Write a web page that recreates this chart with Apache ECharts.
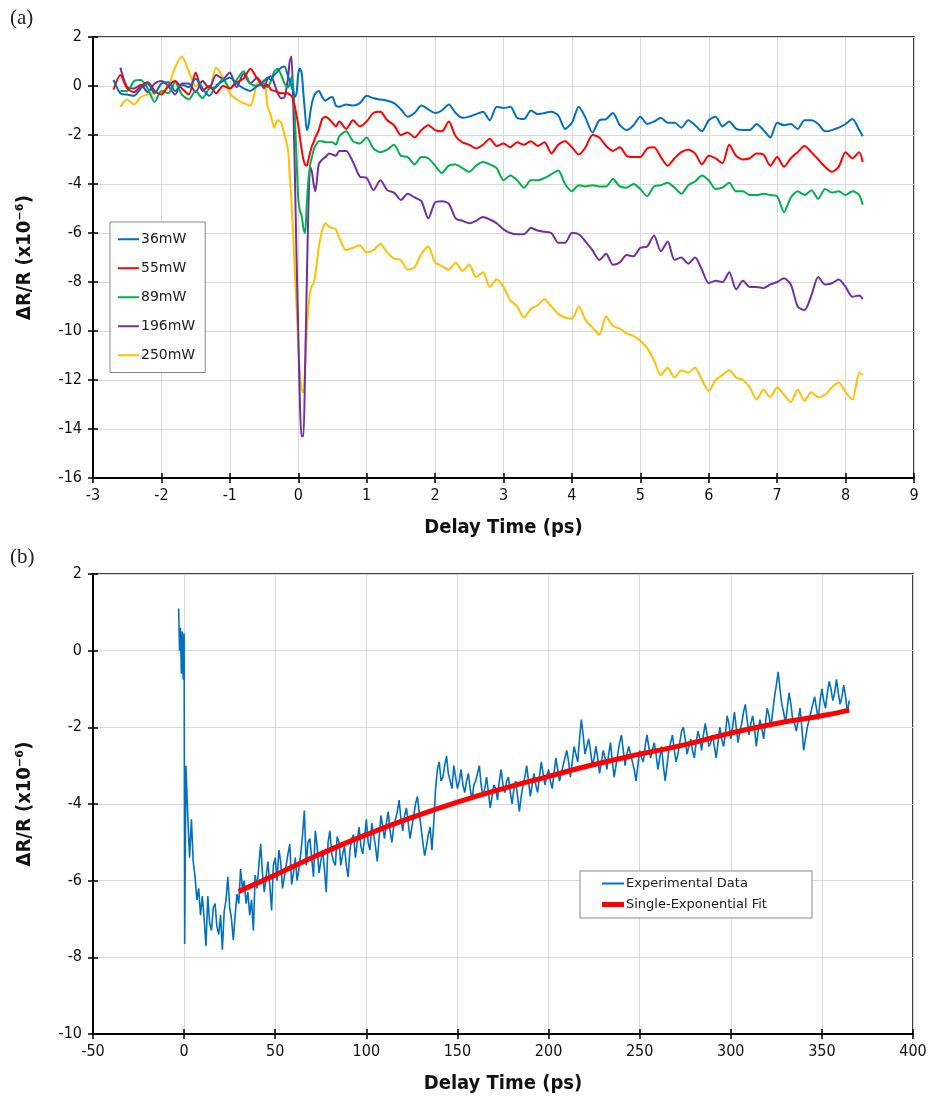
<!DOCTYPE html>
<html><head><meta charset="utf-8">
<script src="https://cdn.jsdelivr.net/npm/echarts@6/dist/echarts.min.js"></script>
<style>html,body{margin:0;padding:0;background:#fff;}#c{width:935px;height:1099px;}</style>
</head><body><div id="c"></div>
<script>
// ---------- Panel (a) ----------
const timeA = [-2.7,-2.6,-2.5,-2.4,-2.3,-2.2,-2.1,-2.0,-1.9,-1.8,-1.7,-1.6,-1.5,-1.4,-1.3,-1.2,-1.1,-1.0,-0.9,-0.8,-0.7,-0.6,-0.5,
-0.45,-0.4,-0.35,-0.3,-0.25,-0.2,-0.15,-0.125,-0.1,-0.075,-0.05,-0.025,0,0.025,0.05,0.075,0.1,0.125,0.15,0.175,0.2,0.225,0.25,0.3,0.35,0.4,0.45,0.5,0.55,0.6,
0.7,0.8,0.9,1.0,1.1,1.2,1.3,1.4,1.5,1.6,1.7,1.8,1.9,2.0,2.1,2.2,2.3,2.4,2.5,2.6,2.7,2.8,2.9,3.0,3.1,3.2,3.3,3.4,3.5,3.6,3.7,3.8,3.9,4.0,4.1,4.2,4.3,4.4,4.5,4.6,4.7,4.8,4.9,5.0,5.1,5.2,5.3,5.4,5.5,5.6,5.7,5.8,5.9,6.0,6.1,6.2,6.3,6.4,6.5,6.6,6.7,6.8,6.9,7.0,7.1,7.2,7.3,7.4,7.5,7.6,7.7,7.8,7.9,8.0,8.1,8.2,8.25];

const p36 = [0.25,-0.3,-0.35,-0.4,-0.1,0.1,-0.3,0.1,0.15,-0.2,0.05,-0.05,0.3,-0.1,-0.4,0.0,0.2,0.35,0.1,-0.1,-0.2,0.0,0.2,
0.35,0.25,0.45,0.6,0.75,0.8,0.4,0.2,0.0,-0.2,-0.45,-0.3,0.5,0.7,0.55,-0.3,-1.1,-1.8,-1.6,-1.1,-0.7,-0.45,-0.3,-0.2,-0.45,-0.6,-0.5,-0.45,-0.8,-0.85,
-0.75,-0.8,-0.7,-0.4,-0.5,-0.55,-0.6,-0.7,-0.95,-1.25,-1.1,-0.8,-0.95,
-1.1,-1.0,-0.75,-1.1,-1.3,-1.25,-1.15,-1.05,-1.4,-0.85,
-0.9,-0.85,-1.3,-1.35,-1.0,-1.15,-1.1,-1.05,-1.2,-1.75,
-1.5,-0.85,-1.3,-1.9,-1.4,-1.35,-1.1,-1.6,-1.8,-1.6,
-1.25,-1.55,-1.45,-1.3,-1.5,-1.5,-1.7,-1.4,-1.6,-1.85,
-1.4,-1.25,-1.65,-1.45,-1.75,-1.8,-1.8,-1.55,-1.8,-2.1,
-1.5,-1.6,-1.55,-1.75,-1.4,-1.4,-1.55,-1.85,-1.8,-1.7,
-1.55,-1.35,-1.8,-2.05];

const p55 = [-0.15,0.45,-0.1,-0.25,0.0,0.15,-0.2,-0.35,0.0,0.2,-0.1,-0.35,0.55,-0.2,0.0,-0.3,0.0,-0.1,0.15,0.3,0.7,0.3,0.0,
0.05,-0.15,-0.2,-0.25,-0.3,-0.3,-0.3,-0.35,-0.4,-0.55,-0.85,-1.2,-1.6,-2.1,-2.6,-3.0,-3.2,-3.25,-3.0,-2.7,-2.45,-2.3,-2.1,-1.8,-1.35,-1.25,-1.35,-1.5,-1.65,-1.45,
-1.75,-1.4,-1.65,-1.45,-1.1,-1.05,-1.4,-1.6,-2.0,-1.9,-2.1,-1.8,-1.6,
-1.8,-1.85,-1.45,-2.05,-2.3,-2.4,-2.55,-2.4,-2.15,-2.45,
-2.35,-2.5,-2.3,-2.4,-2.25,-2.45,-2.3,-2.75,-2.4,-2.25,
-2.5,-2.8,-2.5,-2.0,-2.1,-2.45,-2.65,-2.5,-2.85,-2.9,
-2.9,-2.55,-2.5,-2.9,-3.25,-2.95,-2.7,-2.6,-2.75,-3.2,
-2.85,-2.95,-3.15,-2.4,-2.85,-3.0,-2.95,-2.75,-2.8,-3.25,
-2.9,-3.3,-2.95,-2.7,-2.45,-2.7,-3.0,-3.3,-3.5,-3.3,
-2.7,-2.95,-2.7,-3.1];

const p89 = [null,-0.2,-0.2,0.2,0.25,-0.1,-0.65,-0.2,-0.3,0.15,-0.35,-0.55,-0.2,-0.5,-0.1,-0.05,0.3,-0.1,0.25,0.6,0.1,0.0,0.1,
-0.05,0.2,0.6,0.7,0.45,0.1,-0.05,0.1,0.35,0.0,-1.2,-3.0,-4.6,-5.1,-5.3,-5.8,-6.0,-4.8,-3.8,-3.2,-2.9,-2.6,-2.45,-2.25,-2.25,-2.3,-2.3,-2.3,-2.4,-2.05,
-1.85,-2.25,-2.35,-2.1,-2.55,-2.7,-2.6,-2.4,-2.85,-2.9,-3.2,-2.9,-2.95,
-3.25,-3.55,-3.25,-3.2,-3.35,-3.5,-3.25,-3.1,-3.2,-3.35,
-3.85,-3.65,-3.85,-4.15,-3.85,-3.85,-3.75,-3.6,-3.45,-4.0,
-4.3,-4.05,-4.1,-4.05,-4.1,-4.1,-3.8,-4.1,-4.15,-4.0,
-4.2,-4.5,-4.1,-4.05,-3.95,-4.15,-4.4,-4.05,-3.9,-3.65,
-3.85,-4.2,-4.15,-3.95,-4.3,-4.3,-4.45,-4.45,-4.4,-4.45,
-4.5,-5.15,-4.55,-4.3,-4.45,-4.25,-4.6,-4.2,-4.35,-4.3,
-4.45,-4.3,-4.45,-4.85];

const p196 = [null,0.75,-0.05,-0.1,0.05,-0.25,0.1,0.2,0.0,-0.35,0.1,0.1,-0.25,0.2,-0.1,0.45,0.3,0.55,-0.05,0.5,0.1,0.35,-0.1,
0.3,0.4,0.1,-0.3,-0.5,-0.45,0.3,1.0,1.2,-0.5,-3.5,-7.0,-10.0,-13.0,-14.3,-14.3,-11.5,-8.0,-4.8,-3.3,-3.5,-4.0,-4.3,-3.2,-3.0,-2.9,-2.75,-2.8,-2.85,-2.65,
-2.65,-3.1,-3.7,-3.75,-4.25,-3.85,-4.25,-4.35,-4.65,-4.4,-4.55,-4.7,-5.4,
-4.75,-4.7,-4.8,-5.4,-5.5,-5.6,-5.5,-5.35,-5.45,-5.6,
-5.85,-6.0,-6.05,-6.05,-5.8,-5.9,-5.95,-6.0,-6.4,-6.4,
-6.0,-6.05,-6.35,-6.7,-7.1,-6.85,-7.3,-7.2,-6.9,-6.95,
-6.6,-6.55,-6.1,-6.75,-6.35,-7.1,-7.0,-7.25,-7.0,-7.5,
-8.05,-7.95,-8.0,-7.6,-8.3,-7.95,-8.2,-8.2,-8.25,-8.1,
-8.0,-7.85,-8.1,-9.0,-9.15,-8.55,-7.8,-8.1,-8.05,-7.9,
-8.2,-8.6,-8.55,-8.7];

const p250 = [null,-0.85,-0.55,-0.75,-0.45,-0.35,-0.3,-0.25,0.0,0.75,1.2,0.6,0.0,0.2,-0.1,0.75,0.35,-0.3,-0.55,-0.7,-0.8,0.1,0.25,
-0.8,-1.2,-1.7,-1.4,-1.5,-2.0,-2.6,-3.6,-4.7,-6.0,-7.6,-9.0,-10.6,-11.8,-12.4,-12.5,-11.6,-10.0,-9.0,-8.4,-8.15,-8.05,-7.7,-6.6,-5.9,-5.6,-5.75,-5.8,-5.85,-6.2,
-6.7,-6.6,-6.5,-6.8,-6.7,-6.45,-6.8,-7.05,-7.1,-7.5,-7.4,-6.85,-6.55,
-7.2,-7.35,-7.5,-7.2,-7.55,-7.3,-7.8,-7.6,-8.2,-7.9,
-8.2,-8.75,-9.0,-9.45,-9.1,-8.95,-8.7,-9.0,-9.3,-9.45,
-9.5,-9.0,-9.55,-9.85,-10.15,-9.4,-9.8,-9.9,-10.1,-10.2,
-10.4,-10.7,-11.2,-11.8,-11.5,-11.9,-11.6,-11.7,-11.5,-12.0,
-12.45,-12.0,-11.8,-11.6,-11.9,-12.0,-12.3,-12.8,-12.4,-12.7,
-12.3,-12.6,-12.9,-12.4,-12.85,-12.5,-12.7,-12.6,-12.3,-12.1,
-12.5,-12.8,-11.7,-11.8];

const namesA = ['36mW','55mW','89mW','196mW','250mW'];
const colorsA = ['#0070C0','#FF0000','#00B050','#7030A0','#FFC000'];
const xTicksA = {min:-3, max:9, step:1};
const yTicksA = {min:-16, max:2, step:2};

// ---------- Panel (b) ----------
const timeB = [-3,-2.5,-2,-1.5,-1,-0.5,0,0.3,1,2,3,4,5,6,7,8,9,10,11,12,13,14,15,16,17,18,19,20,21,22,23,24,25,26,27,28,29,30,31,32,33,34,35,36,37,38,39,40,
42,44,46,48,50,52,54,56,58,60,62,64,66,68,70,72,74,76,78,80,82,84,86,88,90,92,94,96,98,100,
102,104,106,108,110,112,114,116,118,120,122,124,126,128,130,132,134,136,138,140,142,144,146,148,150,152,154,156,158,160,
162,164,166,168,170,172,174,176,178,180,182,184,186,188,190,192,194,196,198,200,202,204,206,208,210,212,214,216,218,220,
222,224,226,228,230,232,234,236,238,240,242,244,246,248,250,252,254,256,258,260,262,264,266,268,270,272,274,276,278,280,
282,284,286,288,290,292,294,296,298,300,302,304,306,308,310,312,314,316,318,320,322,324,326,328,330,332,334,336,338,340,
342,344,346,348,350,352,354,356,358,360,362,364,365];

const expB = [1.1,0.0,0.6,-0.6,0.5,-0.75,0.45,-7.65,-3.0,-4.3,-5.4,-4.4,-5.5,-5.9,-6.5,-6.2,-6.9,-6.4,-7.0,-7.7,-6.4,-7.1,-7.3,-6.7,-6.6,-7.2,-7.4,-6.9,-7.8,-6.8,-6.5,-5.9,-6.7,-7.0,-7.55,-6.9,-6.35,-6.6,-5.7,-6.2,-6.0,-6.6,-6.3,-6.9,-6.5,-7.3,-5.85,-6.2,
-5.04,-6.3,-5.5,-6.78,-5.4,-5.2,-6.2,-5.6,-5.05,-5.8,-6.0,-5.3,-4.17,-5.0,-5.4,-4.7,-5.8,-5.2,-6.3,-4.7,-5.5,-4.85,-5.6,-5.1,-5.9,-4.9,-5.4,-4.6,-5.3,-4.4,
-5.2,-4.8,-5.5,-4.3,-4.9,-4.2,-5.0,-4.4,-3.9,-4.7,-4.1,-4.9,-4.3,-3.8,-4.6,-5.35,-4.8,-5.2,-3.6,-2.9,-3.3,-2.75,-3.4,-3.0,-3.6,-3.1,-3.7,-3.2,-3.9,-3.4,
-3.0,-3.8,-3.3,-4.1,-3.5,-3.9,-3.1,-3.7,-3.3,-4.0,-3.4,-4.2,-3.5,-3.0,-3.8,-3.2,-3.7,-2.9,-3.5,-3.1,-3.6,-2.8,-3.4,-3.0,-2.6,-3.3,-2.5,-2.9,-1.8,-2.7,
-2.3,-3.0,-2.5,-3.2,-2.6,-3.1,-2.4,-3.3,-2.7,-2.2,-3.0,-2.5,-2.9,-3.4,-2.6,-2.9,-2.2,-2.8,-2.4,-3.1,-2.5,-3.4,-2.6,-2.2,-2.9,-2.4,-2.0,-2.7,-2.3,-2.8,
-2.1,-2.6,-1.9,-2.5,-2.2,-2.8,-2.0,-2.5,-1.7,-2.3,-1.6,-2.4,-1.9,-1.4,-2.2,-1.7,-2.5,-1.8,-2.3,-1.5,-2.0,-1.2,-0.55,-1.4,-1.9,-1.1,-1.8,-2.1,-1.5,-2.6,
-2.0,-1.6,-1.2,-1.8,-1.0,-1.5,-0.8,-1.3,-0.75,-1.4,-0.9,-1.6,-1.3];

// additional samples between the ones above (odd picoseconds)
const timeB2 = [43,45,47,49,51,53,55,57,59,61,63,65,67,69,71,73,75,77,79,81,83,85,87,89,91,93,95,97,99,101,
103,105,107,109,111,113,115,117,119,121,123,125,127,129,131,133,135,137,139,141,143,145,147,149,151,153,155,157,159,161,
163,165,167,169,171,173,175,177,179,181,183,185,187,189,191,193,195,197,199,201,203,205,207,209,211,213,215,217,219,221,
223,225,227,229,231,233,235,237,239,241,243,245,247,249,251,253,255,257,259,261,263,265,267,269,271,273,275,277,279,281,
283,285,287,289,291,293,295,297,299,301,303,305,307,309,311,313,315,317,319,321,323,325,327,329,331,333,335,337,339,341,
343,345,347,349,351,353,355,357,359,361,363];
const expB2 = [-5.8,-5.9,-6.1,-5.6,-6.0,-5.5,-5.9,-5.3,-6.1,-5.4,
-5.7,-4.8,-5.6,-4.9,-5.9,-5.1,-5.5,-5.7,-5.0,-5.3,
-5.6,-5.0,-5.3,-5.6,-5.2,-4.8,-5.0,-5.1,-4.9,-5.0,
-4.5,-5.1,-4.9,-4.6,-4.5,-4.7,-4.6,-4.2,-4.4,-4.3,
-4.5,-4.6,-4.0,-4.2,-5.0,-5.1,-4.6,-4.5,-3.1,-3.4,
-3.0,-3.2,-3.6,-3.3,-3.4,-3.5,-3.4,-3.6,-3.5,-3.2,
-3.5,-3.6,-3.7,-3.8,-3.6,-3.4,-3.5,-3.4,-3.7,-3.6,
-3.8,-3.8,-3.3,-3.4,-3.5,-3.5,-3.3,-3.2,-3.3,-3.4,
-3.2,-3.1,-3.2,-2.8,-2.9,-2.9,-2.7,-2.3,-2.2,-2.5,
-2.6,-2.8,-2.8,-2.9,-2.8,-2.7,-2.9,-3.0,-2.4,-2.6,
-2.7,-2.7,-3.1,-3.0,-2.8,-2.5,-2.5,-2.6,-2.7,-2.8,
-3.0,-3.0,-2.4,-2.6,-2.7,-2.1,-2.3,-2.5,-2.6,-2.4,
-2.3,-2.2,-2.2,-2.4,-2.5,-2.4,-2.3,-2.2,-1.9,-2.0,
-2.0,-2.1,-1.6,-1.8,-1.9,-2.0,-2.1,-2.0,-1.9,-1.7,
-1.6,-0.9,-1.0,-1.6,-1.5,-1.4,-1.9,-1.8,-2.0,-2.3,
-1.8,-1.4,-1.5,-1.3,-1.3,-1.1,-1.0,-1.1,-1.1,-1.2,-1.2];

const fitT = [30,50,75,100,125,150,175,200,225,250,275,300,325,350,365];
const fitV = [-6.28,-5.85,-5.3,-4.8,-4.35,-3.95,-3.6,-3.28,-2.97,-2.7,-2.45,-2.15,-1.9,-1.7,-1.55];
const namesB = ['Experimental Data','Single-Exponential Fit'];
const xTicksB = {min:-50, max:400, step:50};
const yTicksB = {min:-10, max:2, step:2};

// ---------- chart ----------
const FONT = "'DejaVu Sans Condensed','DejaVu Sans',Verdana,sans-serif";
const LFONT = "'DejaVu Sans',Verdana,sans-serif";
const pair = (t, v) => t.map((x, i) => [x, v[i]]).filter(p => p[1] !== null && p[1] !== undefined);

function mainX(g, r) {
  return {
    type:'value', gridIndex:g, position:'bottom', min:r.min, max:r.max, interval:r.step,
    axisLine:{show:true, onZero:false, lineStyle:{color:'#000', width:2}},
    axisTick:{show:true, length:5, lineStyle:{color:'#000', width:1.5}},
    axisLabel:{fontSize:16, color:'#111', margin:10, fontFamily:FONT},
    splitLine:{show:true, lineStyle:{color:'#d9d9d9', width:1}},
    name:'Delay Time (ps)', nameLocation:'middle', nameGap:40,
    nameTextStyle:{fontSize:20, fontWeight:'bold', color:'#111', fontFamily:FONT}
  };
}
function mainY(g, r) {
  return {
    type:'value', gridIndex:g, position:'left', min:r.min, max:r.max, interval:r.step,
    axisLine:{show:true, onZero:false, lineStyle:{color:'#000', width:2}},
    axisTick:{show:true, length:5, lineStyle:{color:'#000', width:1.5}},
    axisLabel:{fontSize:16, color:'#111', margin:11, fontFamily:FONT},
    splitLine:{show:true, lineStyle:{color:'#d9d9d9', width:1}},
    name:'ΔR/R (x10⁻⁶)', nameLocation:'middle', nameGap:58, nameRotate:90,
    nameTextStyle:{fontSize:20, fontWeight:'bold', color:'#111', fontFamily:FONT}
  };
}
function dupAxis(g, r, pos) {
  return {
    type:'value', gridIndex:g, position:pos, min:r.min, max:r.max, interval:r.step,
    axisLine:{show:false, onZero:false}, axisLabel:{show:false}, splitLine:{show:false},
    axisTick:{show:true, inside:true, length:5, lineStyle:{color:'#000', width:1.5}}
  };
}

const series = [];
[p36, p55, p89, p196, p250].forEach((arr, i) => {
  series.push({
    name:namesA[i], type:'line', xAxisIndex:0, yAxisIndex:0, data:pair(timeA, arr),
    showSymbol:false, symbol:'none', smooth:0.25, z:10 - i,
    lineStyle:{color:colorsA[i], width:2}, itemStyle:{color:colorsA[i]}
  });
});
const expAll = pair(timeB, expB).concat(pair(timeB2, expB2)).sort((a, b) => a[0] - b[0]);
series.push({
  name:namesB[0], type:'line', xAxisIndex:1, yAxisIndex:1, data:expAll,
  showSymbol:false, symbol:'none', lineStyle:{color:'#0070C0', width:1.6}, itemStyle:{color:'#0070C0'}
});
series.push({
  name:namesB[1], type:'line', xAxisIndex:1, yAxisIndex:1, data:pair(fitT, fitV),
  showSymbol:false, symbol:'none', smooth:true, z:5,
  lineStyle:{color:'#FF0000', width:5}, itemStyle:{color:'#FF0000'}
});

const chart = echarts.init(document.getElementById('c'), null, {renderer:'canvas'});
chart.setOption({
  animation:false,
  backgroundColor:'#fff',
  grid:[
    {left:93, top:37, width:821, height:441, show:true, borderColor:'#000', borderWidth:1.5, backgroundColor:'transparent'},
    {left:93, top:574, width:820, height:460, show:true, borderColor:'#000', borderWidth:1.5, backgroundColor:'transparent'}
  ],
  xAxis:[mainX(0, xTicksA), mainX(1, xTicksB), dupAxis(0, xTicksA, 'bottom'), dupAxis(1, xTicksB, 'bottom')],
  yAxis:[mainY(0, yTicksA), mainY(1, yTicksB), dupAxis(0, yTicksA, 'left'), dupAxis(1, yTicksB, 'left')],
  legend:[
    {data:namesA, orient:'vertical', left:110, top:222, itemGap:12.5, icon:'rect', itemWidth:21, itemHeight:2,
     padding:[9,10,9,8], borderColor:'#888', borderWidth:1, backgroundColor:'#fff',
     textStyle:{fontSize:14, color:'#222', fontFamily:LFONT, lineHeight:16.5, padding:[0,0,0,-3]}},
    {data:[namesB[0]], orient:'vertical', left:602, top:877, icon:'rect', itemWidth:22, itemHeight:2,
     padding:0, textStyle:{fontSize:13, color:'#222', fontFamily:LFONT, padding:[0,0,0,-3]}},
    {data:[namesB[1]], orient:'vertical', left:602, top:898, icon:'rect', itemWidth:22, itemHeight:5,
     padding:0, textStyle:{fontSize:13, color:'#222', fontFamily:LFONT, padding:[0,0,0,-3]}}
  ],
  graphic:[
    {type:'text', left:10, top:8, style:{text:'(a)', font:"21px 'Liberation Serif','Times New Roman',serif", fill:'#222'}},
    {type:'text', left:10, top:547, style:{text:'(b)', font:"21px 'Liberation Serif','Times New Roman',serif", fill:'#222'}},
    {type:'rect', z:3, shape:{x:580, y:871, width:232, height:47}, style:{fill:'#fff', stroke:'#888', lineWidth:1}}
  ],
  series:series
});
</script>
</body></html>
